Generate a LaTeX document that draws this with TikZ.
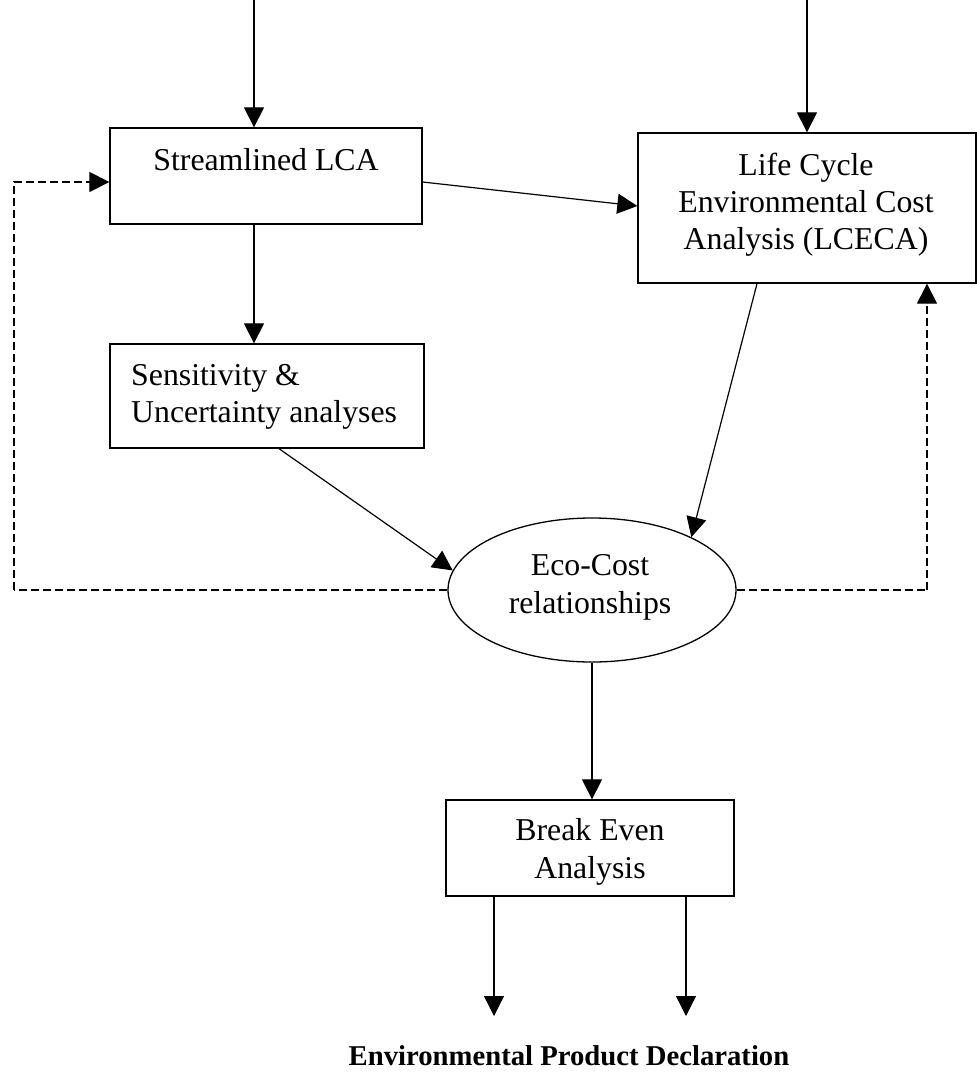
\documentclass[tikz,border=0pt]{standalone}
\usepackage{fontspec}
\setmainfont{Liberation Serif}
\usetikzlibrary{arrows.meta,shapes.geometric}
\begin{document}
\begin{tikzpicture}[x=1pt,y=-1pt,
  box/.style={draw,line width=1.3pt,inner sep=0pt},
  txt/.style={inner sep=0pt,font=\fontsize{31.8}{37}\selectfont},
  arr/.style={line width=1.2pt,-{Triangle[length=20pt,width=20pt]}},
  darr/.style={arr,dash pattern=on 8pt off 4pt},
  dline/.style={line width=1.2pt,dash pattern=on 8pt off 4pt}]
\useasboundingbox (0,0) rectangle (977,1074);
% boxes
\node[box,minimum width=312pt,minimum height=96pt] (sl) at (266,176) {};
\node[box,minimum width=338pt,minimum height=150pt] (lc) at (807,208) {};
\node[box,minimum width=314pt,minimum height=104pt] (se) at (267,396) {};
\node[box,ellipse,minimum width=288pt,minimum height=144pt] (eco) at (592,590) {};
\node[box,minimum width=288pt,minimum height=96pt] (be) at (590,848) {};
% texts
\node[txt,anchor=base] (slt) at (266,170) {Streamlined LCA};
\node[txt,anchor=base] (lct1) at (806,175) {Life Cycle};
\node[txt,anchor=base] (lct2) at (806,212) {Environmental Cost};
\node[txt,anchor=base] (lct3) at (806,249) {Analysis (LCECA)};
\node[txt,anchor=base west] (set1) at (131,385) {Sensitivity \&};
\node[txt,anchor=base west] (set2) at (131,422) {Uncertainty analyses};
\node[txt,anchor=base] (ecot1) at (590,575) {Eco-Cost};
\node[txt,anchor=base] (ecot2) at (590,613) {relationships};
\node[txt,anchor=base] (bet1) at (590,840) {Break Even};
\node[txt,anchor=base] (bet2) at (590,878) {Analysis};
\node[inner sep=0pt,anchor=base,font=\fontsize{28.7}{34}\selectfont\bfseries] (epd) at (569,1065) {Environmental Product Declaration};
% coordinates
\coordinate (in1) at (254,0);
\coordinate (in2) at (807,0);
\coordinate (out1) at (494,1016);
\coordinate (out2) at (686,1016);
\coordinate (dl) at (14,590);
\coordinate (dr) at (927,590);
% connectors
\draw[arr] (in1) -- (in1 |- sl.north);
\draw[arr] (in2) -- (in2 |- lc.north);
\draw[arr] (sl.south -| in1) -- (se.north -| in1);
\draw[arr] ([yshift=-6pt]sl.east) -- ([yshift=2pt]lc.west);
\draw[arr] ([xshift=-50pt]lc.south) -- (eco.28);
\draw[arr] ([xshift=12pt]se.south) -- (eco.172);
\draw[arr] (eco.south) -- (eco.south |- be.north);
\draw[arr] (be.south -| out1) -- (out1);
\draw[arr] (be.south -| out2) -- (out2);
\draw[dline] (eco.west) -- (dl);
\draw[darr] (dl) |- ([yshift=-6pt]sl.west);
\draw[dline] (eco.east) -- (dr);
\draw[darr] (dr) -- (dr |- lc.south);
\end{tikzpicture}
\end{document}
